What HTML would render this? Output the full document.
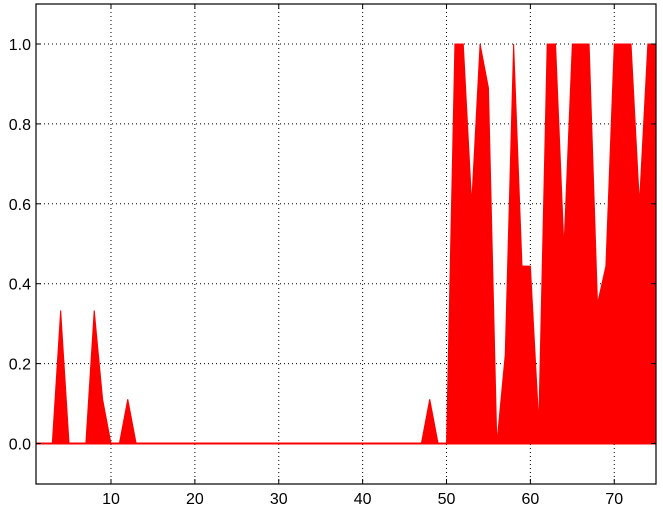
<!DOCTYPE html>
<html><head><meta charset="utf-8"><style>
body{margin:0;background:#fff;}
svg text{font-family:"Liberation Sans",sans-serif;font-size:16px;fill:#000;}
</style></head><body>
<svg id="chart" width="663" height="512" xmlns="http://www.w3.org/2000/svg">
<g id="grid"></g>
<g id="series"></g>
<g id="axes"></g>
</svg>
<script>
const xValues = [1,2,3,4,5,6,7,8,9,10,11,12,13,14,15,16,17,18,19,20,21,22,23,24,25,26,27,28,29,30,31,32,33,34,35,36,37,38,39,40,41,42,43,44,45,46,47,48,49,50,51,52,53,54,55,56,57,58,59,60,61,62,63,64,65,66,67,68,69,70,71,72,73,74,75];
const yValues = [0,0,0,0.333,0,0,0,0.333,0.111,0,0,0.111,0,0,0,0,0,0,0,0,0,0,0,0,0,0,0,0,0,0,0,0,0,0,0,0,0,0,0,0,0,0,0,0,0,0,0,0.111,0,0,1,1,0.6,1,0.89,0,0.222,1,0.444,0.444,0.05,1,1,0.49,1,1,1,0.35,0.444,1,1,1,0.6,1,1];
const xTicks = [10,20,30,40,50,60,70];
const yTicks = [0.0,0.2,0.4,0.6,0.8,1.0];
const L=36,R=656,T=4,B=484;
const NS="http://www.w3.org/2000/svg";
function xs(v){return 35.5+(v-1)*8.388;}
function ys(v){return 443.5-v*399.5;}
function mk(tag,attrs,parent){const e=document.createElementNS(NS,tag);for(const k in attrs)e.setAttribute(k,attrs[k]);parent.appendChild(e);return e;}
const grid=document.getElementById('grid'),series=document.getElementById('series'),axes=document.getElementById('axes');
const svg=document.getElementById('chart');
const cp=mk('clipPath',{id:'clip'},svg);mk('rect',{x:L,y:T,width:R-L,height:B-T},cp);
xTicks.forEach(t=>{
  const g=mk('line',{x1:xs(t),x2:xs(t),y1:T,y2:B,stroke:'#000','stroke-dasharray':'1,3','stroke-width':1},grid);
  
  
});
yTicks.forEach(t=>{
  const g=mk('line',{x1:L,x2:R,y1:ys(t),y2:ys(t),stroke:'#000','stroke-dasharray':'1,3','stroke-width':1},grid);
  
  
});
let d='M'+xs(xValues[0])+','+ys(0);
xValues.forEach((x,i)=>{d+=' L'+xs(x)+','+ys(yValues[i]);});
d+=' L'+xs(xValues[xValues.length-1])+','+ys(0)+' Z';
const area=mk('path',{d:d,fill:'#ff0000',stroke:'#ff0000','stroke-width':1,'clip-path':'url(#clip)'},series);


const base=mk('line',{x1:L,x2:R,y1:ys(0),y2:ys(0),stroke:'#ff0000','stroke-width':2},series);


const frame=mk('rect',{x:L,y:T,width:R-L,height:B-T,fill:'none',stroke:'#000','stroke-width':1.2},axes);


xTicks.forEach(t=>{
  mk('line',{x1:xs(t),x2:xs(t),y1:B,y2:B-5,stroke:'#000'},axes);
  mk('line',{x1:xs(t),x2:xs(t),y1:T,y2:T+5,stroke:'#000'},axes);
  const lb=mk('text',{x:xs(t),y:B+20,'text-anchor':'middle'},axes);
  lb.textContent=String(t);
  
  
});
yTicks.forEach(t=>{
  mk('line',{x1:L,x2:L+5,y1:ys(t),y2:ys(t),stroke:'#000'},axes);
  mk('line',{x1:R,x2:R-5,y1:ys(t),y2:ys(t),stroke:'#000'},axes);
  const lb=mk('text',{x:L-5,y:ys(t)+6,'text-anchor':'end'},axes);
  lb.textContent=t.toFixed(1);
  
  
});
</script>
</body></html>
